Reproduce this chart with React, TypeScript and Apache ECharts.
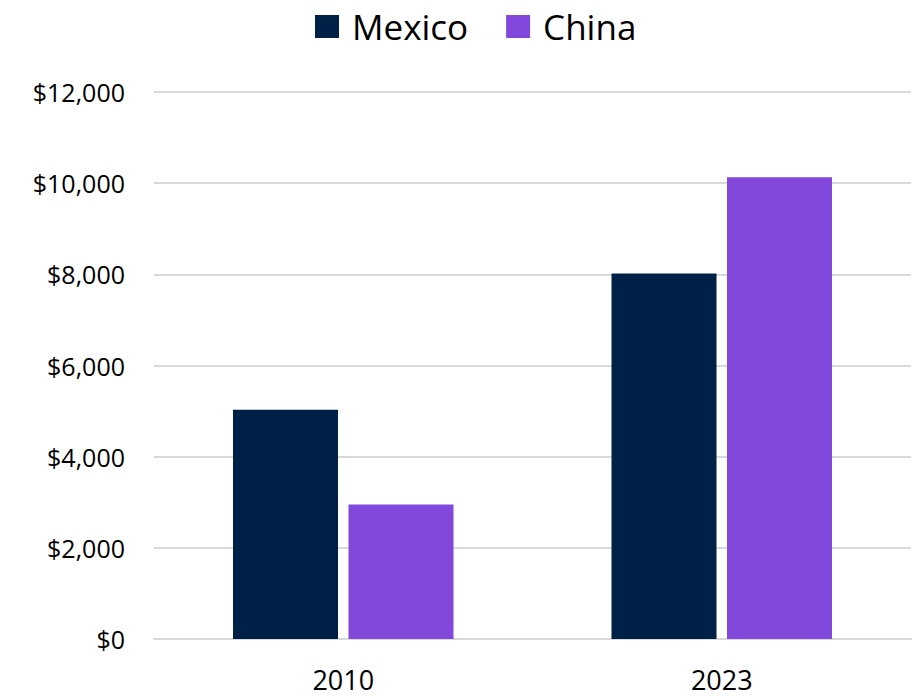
import React, { useEffect, useRef } from "react";
import * as echarts from "echarts";

const categories = ["2010", "2023"];
const seriesNames = ["Mexico", "China"];
const mexicoValues = [5030, 8020];
const chinaValues = [2950, 10130];
const yTicks = { min: 0, max: 12000, interval: 2000 };
const colors = ["#002147", "#8247DB"];

export default function App() {
  const ref = useRef<HTMLDivElement>(null);
  useEffect(() => {
    if (!ref.current) return;
    const chart = echarts.init(ref.current, null, { renderer: "svg" });
    const font = "'Open Sans', 'Noto Sans', sans-serif";
    chart.setOption({
      animation: false,
      backgroundColor: "#ffffff",
      color: colors,
      textStyle: { fontFamily: font },
      legend: {
        top: 4,
        left: 310,
        itemWidth: 24,
        itemHeight: 23,
        itemGap: 38,
        icon: "rect",
        textStyle: {
          fontSize: 35,
          color: "#000000",
          fontFamily: font,
          padding: [0, 0, 0, 8],
        },
        data: seriesNames,
      },
      grid: { left: 154, right: 6, top: 92, bottom: 57, containLabel: false },
      xAxis: {
        type: "category",
        data: categories,
        axisLine: { show: true, lineStyle: { color: "#d9d9d9", width: 2 } },
        axisTick: { show: false },
        axisLabel: {
          fontSize: 27,
          lineHeight: 26,
          color: "#000000",
          margin: 27,
          fontFamily: font,
        },
      },
      yAxis: {
        type: "value",
        min: yTicks.min,
        max: yTicks.max,
        interval: yTicks.interval,
        axisLine: { show: false },
        axisTick: { show: false },
        splitLine: { lineStyle: { color: "#d9d9d9", width: 2 } },
        axisLabel: {
          fontSize: 25,
          color: "#000000",
          margin: 29,
          fontFamily: font,
          formatter: (v: number) => "$" + v.toLocaleString("en-US"),
        },
      },
      series: [
        {
          name: seriesNames[0],
          type: "bar",
          data: mexicoValues,
          barWidth: 105,
          barGap: "10%",
        },
        {
          name: seriesNames[1],
          type: "bar",
          data: chinaValues,
          barWidth: 105,
          barGap: "10%",
        },
      ],
    });
    return () => chart.dispose();
  }, []);
  return (
    <div
      ref={ref}
      style={{ position: "fixed", left: 0, top: 0, width: 917, height: 696 }}
    />
  );
}
